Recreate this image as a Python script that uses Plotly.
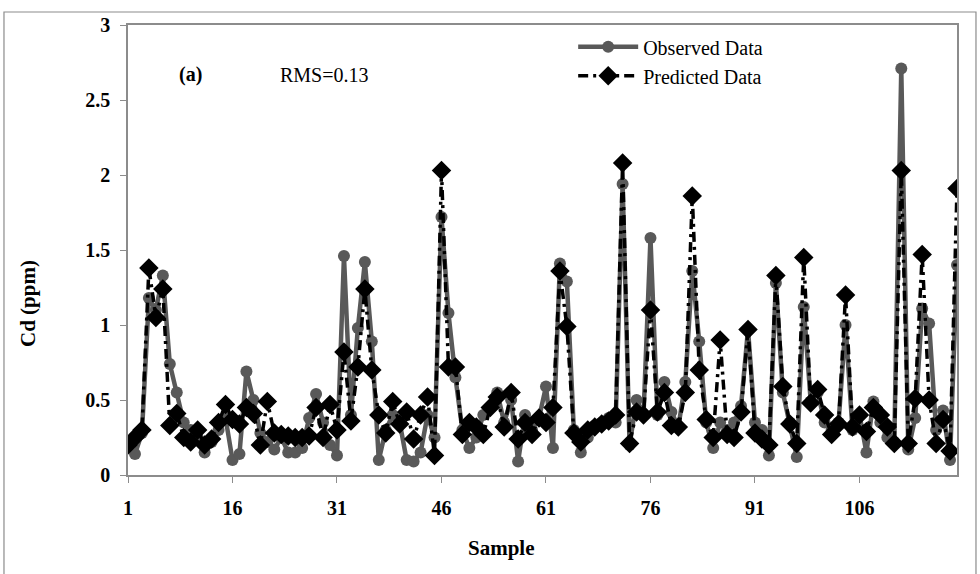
import plotly.graph_objects as go

samples = list(range(1, 121))
observed = [0.20, 0.14, 0.28, 1.18, 1.10, 1.33, 0.74, 0.55, 0.35, 0.30,
            0.25, 0.15, 0.22, 0.30, 0.38, 0.10, 0.14, 0.69, 0.50, 0.28,
            0.22, 0.17, 0.25, 0.15, 0.15, 0.18, 0.38, 0.54, 0.35, 0.20,
            0.13, 1.46, 0.40, 0.98, 1.42, 0.89, 0.10, 0.30, 0.40, 0.35,
            0.10, 0.09, 0.15, 0.40, 0.25, 1.72, 1.08, 0.65, 0.30, 0.18,
            0.25, 0.40, 0.45, 0.55, 0.35, 0.50, 0.09, 0.40, 0.30, 0.38,
            0.59, 0.18, 1.41, 1.29, 0.30, 0.15, 0.25, 0.33, 0.35, 0.38,
            0.35, 1.94, 0.20, 0.50, 0.40, 1.58, 0.40, 0.62, 0.42, 0.32,
            0.62, 1.36, 0.89, 0.35, 0.18, 0.35, 0.30, 0.35, 0.46, 0.97,
            0.35, 0.30, 0.13, 1.28, 0.55, 0.35, 0.12, 1.12, 0.49, 0.55,
            0.35, 0.30, 0.35, 1.00, 0.30, 0.40, 0.15, 0.49, 0.35, 0.25,
            0.22, 2.71, 0.17, 0.38, 1.11, 1.01, 0.30, 0.43, 0.10, 1.40]
predicted = [0.20, 0.25, 0.30, 1.38, 1.05, 1.24, 0.33, 0.41, 0.25, 0.22,
             0.30, 0.20, 0.24, 0.35, 0.47, 0.37, 0.34, 0.45, 0.41, 0.20,
             0.49, 0.28, 0.27, 0.26, 0.25, 0.25, 0.26, 0.45, 0.25, 0.47,
             0.30, 0.82, 0.36, 0.72, 1.24, 0.70, 0.40, 0.28, 0.49, 0.34,
             0.42, 0.24, 0.40, 0.52, 0.13, 2.03, 0.72, 0.72, 0.27, 0.35,
             0.32, 0.27, 0.45, 0.52, 0.32, 0.55, 0.24, 0.35, 0.27, 0.38,
             0.35, 0.45, 1.36, 0.99, 0.28, 0.22, 0.30, 0.32, 0.34, 0.36,
             0.40, 2.08, 0.21, 0.42, 0.40, 1.10, 0.42, 0.55, 0.33, 0.32,
             0.55, 1.86, 0.70, 0.37, 0.25, 0.90, 0.27, 0.25, 0.42, 0.97,
             0.28, 0.24, 0.20, 1.33, 0.59, 0.34, 0.21, 1.45, 0.48, 0.57,
             0.40, 0.27, 0.34, 1.20, 0.32, 0.40, 0.29, 0.45, 0.40, 0.32,
             0.21, 2.03, 0.21, 0.51, 1.47, 0.50, 0.21, 0.37, 0.16, 1.91]
x_ticks = [1, 16, 31, 46, 61, 76, 91, 106]
y_ticks = [0, 0.5, 1, 1.5, 2, 2.5, 3]
y_tick_labels = ["0", "0.5", "1", "1.5", "2", "2.5", "3"]

FONT = "Liberation Serif"
GRAY = "#595959"
AXC = "#8c8c8c"

fig = go.Figure()
fig.add_trace(go.Scatter(
    x=samples, y=observed, name="Observed Data", mode="lines+markers",
    line=dict(color=GRAY, width=4.5),
    marker=dict(symbol="circle", size=12, color=GRAY),
))
fig.add_trace(go.Scatter(
    x=samples, y=predicted, name="Predicted Data", mode="lines+markers",
    line=dict(color="black", width=3.5, dash="10px,5px,3px,5px"),
    marker=dict(symbol="diamond", size=15, color="black"),
))

fig.update_layout(
    width=980, height=574,
    margin=dict(l=128, r=23, t=25, b=99),
    paper_bgcolor="white", plot_bgcolor="white",
    font=dict(family=FONT, color="black", size=20),
    showlegend=True,
    legend=dict(x=0.537, y=0.995, xanchor="left", yanchor="top",
                bgcolor="rgba(0,0,0,0)", font=dict(family=FONT, size=20, color="black"),
                itemwidth=60, tracegroupgap=0),
    xaxis=dict(range=[1, 120], tickvals=x_ticks, ticktext=[str(v) for v in x_ticks],
               ticks="outside", ticklen=6, tickcolor=AXC, ticklabelstandoff=8,
               showline=True, linecolor=AXC, linewidth=1.5, mirror=True,
               showgrid=False, zeroline=False,
               tickfont=dict(family=FONT, size=20, color="black", weight="bold")),
    yaxis=dict(range=[0, 3], tickvals=y_ticks, ticktext=y_tick_labels,
               ticks="outside", ticklen=6, tickcolor=AXC, ticklabelstandoff=6,
               showline=True, linecolor=AXC, linewidth=1.5, mirror=True,
               showgrid=False, zeroline=False,
               tickfont=dict(family=FONT, size=20, color="black", weight="bold")),
    annotations=[
        dict(text="<b>(a)</b>", x=0.059, y=0.889, xref="paper", yref="paper",
             xanchor="left", yanchor="middle",
             showarrow=False, font=dict(family=FONT, size=20, color="black")),
        dict(text="RMS=0.13", x=0.181, y=0.889, xref="paper", yref="paper",
             xanchor="left", yanchor="middle",
             showarrow=False, font=dict(family=FONT, size=20, color="black")),
        dict(text="<b>Sample</b>", x=0.45, y=-0.162, xref="paper", yref="paper",
             xanchor="center", yanchor="middle",
             showarrow=False, font=dict(family=FONT, size=21, color="black")),
        dict(text="<b>Cd (ppm)</b>", x=-0.1206, y=0.38, xref="paper", yref="paper",
             xanchor="center", yanchor="middle",
             textangle=-90, showarrow=False, font=dict(family=FONT, size=21, color="black")),
    ],
    shapes=[dict(type="rect", xref="paper", yref="paper",
                 x0=-0.1496, x1=1.0229, y0=-0.23, y1=1.0289,
                 line=dict(color=AXC, width=1.2), fillcolor="rgba(0,0,0,0)")],
)

fig.write_html("out.html", config={"displayModeBar": False},
               post_script="document.body.style.margin='0';")
